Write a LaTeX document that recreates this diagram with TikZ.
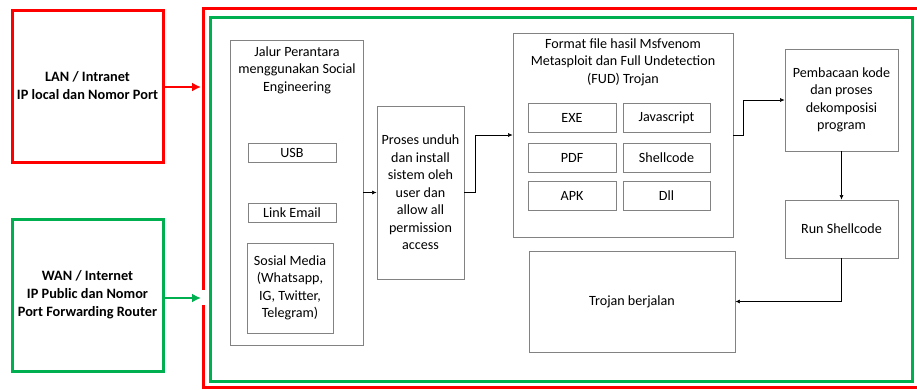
\documentclass[tikz,border=0pt]{standalone}
\usepackage{fontspec}
\setmainfont{Carlito}
\usetikzlibrary{arrows.meta}
\definecolor{lanred}{RGB}{255,0,0}
\definecolor{wangreen}{RGB}{0,176,80}
\definecolor{boxgray}{RGB}{130,130,130}

\begin{document}
\begin{tikzpicture}[x=1pt,y=-1pt]
    \tikzstyle{box}=[draw=boxgray,line width=.8pt,inner sep=0pt,align=center,font=\fontsize{14.1}{17.5}\selectfont]
    \tikzstyle{title}=[inner sep=0pt,align=center,font=\fontsize{14.1}{17.5}\selectfont]
    \tikzstyle{side}=[draw,line width=3pt,inner sep=0pt,align=center,font=\bfseries\fontsize{14.3}{18}\selectfont,minimum width=151pt,minimum height=152pt]
    \tikzstyle{flow}=[draw,line width=.6pt,-{Latex[length=4.5pt,width=4pt]}]
    \tikzstyle{link}=[draw,line width=2.5pt,-{Latex[length=9pt,width=9pt]}]
    \useasboundingbox (0,0) rectangle (917,389);
    % outer frames
    \draw[lanred,line width=3pt] (203,305) -- (203,387) -- (925,387) -- (925,8) -- (203,8) -- (203,290);
    \draw[wangreen,line width=3pt] (210,17) rectangle (912,381);
    % network side
    \node[side,draw=lanred] (lan) at (87.5,86) {LAN / Intranet\\IP local dan Nomor Port};
    \node[side,draw=wangreen] (wan) at (87.5,295) {WAN / Internet\\IP Public dan Nomor\\Port Forwarding Router};
    \coordinate (lanend) at (201,87);
    \coordinate (wanend) at (201,298);
    \draw[link,lanred] (lan.east |- lanend) -- (lanend);
    \draw[link,wangreen] (wan.east |- wanend) -- (wanend);
    % social engineering
    \node[box,minimum width=133pt,minimum height=305pt] (jalur) at (296.5,192.5) {};
    \node[title] (jalurtxt) at (297,70) {Jalur Perantara\\menggunakan Social\\Engineering};
    \node[box,minimum width=88pt,minimum height=19pt] (usb) at (292,152.5) {USB};
    \node[box,minimum width=88pt,minimum height=19pt] (email) at (292,212.5) {Link Email};
    \node[box,minimum width=86pt,minimum height=90pt] (sosmed) at (290,288) {Sosial Media\\(Whatsapp,\\IG, Twitter,\\Telegram)};
    \node[box,minimum width=87pt,minimum height=173pt] (proses) at (420.5,192.5) {Proses unduh\\dan install\\sistem oleh\\user dan\\allow all\\permission\\access};
    % file format
    \node[box,minimum width=220pt,minimum height=204pt] (format) at (623,135) {};
    \node[title] (formattxt) at (623,62) {Format file hasil Msfvenom\\Metasploit dan Full Undetection\\(FUD) Trojan};
    \node[box,minimum width=88pt,minimum height=29pt] (exe) at (572,117.5) {EXE};
    \node[box,minimum width=87pt,minimum height=29pt] (js) at (666.5,117.5) {Javascript};
    \node[box,minimum width=88pt,minimum height=29pt] (pdf) at (572,157.5) {PDF};
    \node[box,minimum width=87pt,minimum height=29pt] (shell) at (666.5,157.5) {Shellcode};
    \node[box,minimum width=88pt,minimum height=29pt] (apk) at (572,195.5) {APK};
    \node[box,minimum width=87pt,minimum height=29pt] (dll) at (666.5,195.5) {Dll};
    % execution
    \node[box,minimum width=113pt,minimum height=102pt] (baca) at (841.5,100) {Pembacaan kode\\dan proses\\dekomposisi\\program};
    \node[box,minimum width=113pt,minimum height=58pt] (run) at (841.5,229) {Run Shellcode};
    \node[box,minimum width=206pt,minimum height=101pt] (trojan) at (632,301.5) {Trojan berjalan};
    \draw[flow] (jalur.east) -- (proses.west);
    \draw[flow] (proses.east) -- ++(11,0) |- (format.west);
    \draw[flow] (format.east) -- ++(10,0) |- (baca.west);
    \draw[flow] (baca.south) -- (run.north);
    \draw[flow] (run.south) |- (trojan.east);
\end{tikzpicture}
\end{document}
